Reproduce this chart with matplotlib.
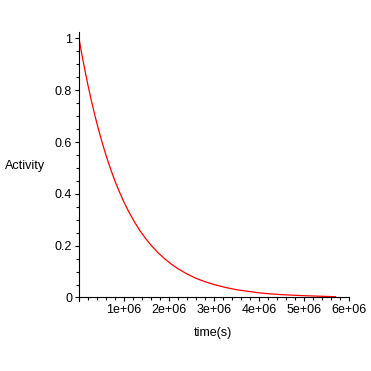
import matplotlib
matplotlib.use("Agg")
import matplotlib.pyplot as plt
from matplotlib.ticker import MultipleLocator, FixedLocator

# Data
time_s = [0, 0.05e6, 0.1e6, 0.15e6, 0.2e6, 0.275e6, 0.35e6, 0.425e6, 0.5e6,
          0.6e6, 0.7e6, 0.8e6, 0.9e6, 1.0e6, 1.1e6, 1.225e6, 1.35e6, 1.475e6,
          1.6e6, 1.75e6, 1.9e6, 2.05e6, 2.2e6, 2.4e6, 2.6e6, 2.8e6, 3.0e6,
          3.25e6, 3.5e6, 3.75e6, 4.0e6, 4.25e6, 4.5e6, 4.75e6, 5.0e6, 5.35e6, 5.7e6]
activity = [1.0, 0.951, 0.905, 0.861, 0.819, 0.760, 0.705, 0.654, 0.607,
            0.549, 0.497, 0.449, 0.407, 0.368, 0.333, 0.294, 0.259, 0.229,
            0.202, 0.174, 0.150, 0.129, 0.111, 0.091, 0.074, 0.061, 0.050,
            0.039, 0.030, 0.024, 0.018, 0.014, 0.011, 0.009, 0.007, 0.005, 0.003]
x_ticks = [1e6, 2e6, 3e6, 4e6, 5e6, 6e6]
x_tick_labels = ["1e+06", "2e+06", "3e+06", "4e+06", "5e+06", "6e+06"]
y_ticks = [0, 0.2, 0.4, 0.6, 0.8, 1]
y_tick_labels = ["0", "0.2", "0.4", "0.6", "0.8", "1"]

plt.rcParams['font.family'] = ['Liberation Sans', 'DejaVu Sans']

W = H = 371
fig = plt.figure(figsize=(W / 100, H / 100), dpi=100)
left_px, right_px = 79, 349
top_px, bottom_px = 32.5, 300.5
ax = fig.add_axes([left_px / W, (H - bottom_px) / H,
                   (right_px - left_px) / W, (bottom_px - top_px) / H])

ax.plot(time_s, activity, color='#ff0000', lw=0.9)

ax.set_xlim(0, 6e6)
ax.set_ylim(-0.0116, 1.023)

for s in ['top', 'right']:
    ax.spines[s].set_visible(False)
ax.spines['bottom'].set_position(('data', 0))
ax.spines['left'].set_position(('data', 0))
for s in ['bottom', 'left']:
    ax.spines[s].set_linewidth(0.8)
    ax.spines[s].set_color('black')

ax.xaxis.set_major_locator(FixedLocator(x_ticks))
ax.set_xticklabels(x_tick_labels)
ax.xaxis.set_minor_locator(MultipleLocator(0.2e6))
ax.yaxis.set_major_locator(FixedLocator(y_ticks))
ax.set_yticklabels(y_tick_labels)
ax.yaxis.set_minor_locator(MultipleLocator(0.05))

ax.tick_params(axis='both', which='both', direction='out', width=0.8,
               colors='black', labelsize=9)
ax.tick_params(axis='both', which='major', length=3, pad=2)
ax.tick_params(axis='both', which='minor', length=2)

fig.text(5 / W, 1 - 166 / H, "Activity", fontsize=9, ha='left', va='center')
fig.text(213 / W, 1 - 333 / H, "time(s)", fontsize=9, ha='center', va='center')

fig.savefig("out.png", dpi=100)
